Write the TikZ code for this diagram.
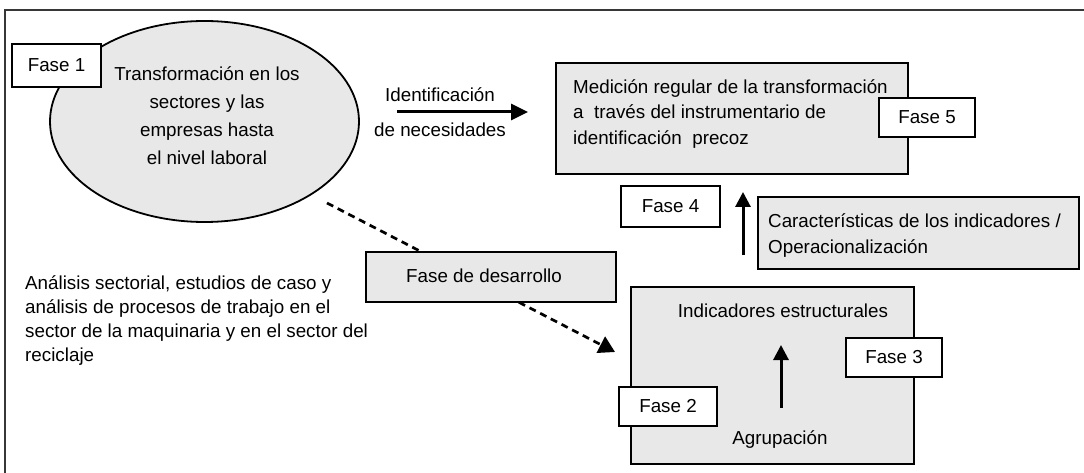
\documentclass[tikz,border=0pt]{standalone}
\usepackage{fontspec}
\setmainfont{Liberation Sans}
\usetikzlibrary{shapes.geometric,arrows.meta}
\definecolor{boxgray}{RGB}{232,232,232}
\definecolor{framegray}{RGB}{55,55,55}
\begin{document}
\begin{tikzpicture}[x=1pt,y=-1pt,
  every node/.style={font=\fontsize{18.8}{22}\selectfont},
  graybox/.style={draw=black,line width=2.1pt,fill=boxgray,rectangle,inner sep=0pt},
  phase/.style={draw=black,line width=2.1pt,fill=white,rectangle,inner sep=0pt},
  txt/.style={inner sep=0pt},
  arr/.style={line width=3pt,-{Triangle[length=17pt,width=16pt]}},
  uparr/.style={line width=3pt,-{Triangle[length=15pt,width=15pt]}},
  dasharr/.style={line width=2.7pt,dash pattern=on 7pt off 5pt,-{Triangle[length=16pt,width=18pt]}},
]
\useasboundingbox (0,0) rectangle (1084,473);
% frame (only top and left edges visible)
\draw[framegray,line width=1.8pt] (5,490) -- (5,10) -- (1100,10);

% Phase 1 ellipse
\node[ellipse,draw=black,line width=1.8pt,fill=boxgray,minimum width=309pt,minimum height=201pt,inner sep=0pt] (trans) at (204.5,121.5) {};
\node[txt,anchor=north,align=center,font=\fontsize{18.8}{28.3}\selectfont] (transtxt) at (207,66) {Transformación en los\\sectores y las\\empresas hasta\\el nivel laboral};
\node[phase,minimum width=89pt,minimum height=43pt] (f1) at (56.5,65.5) {Fase 1};

% identification arrow
\coordinate (idS) at (397,112);
\coordinate (idE) at (528,112);
\draw[arr] (idS) -- (idE);
\node[txt,anchor=north,align=center,font=\fontsize{18.8}{35}\selectfont] (idtxt) at (440,87) {Identificación\\de necesidades};

% measurement box
\node[graybox,minimum width=352pt,minimum height=111pt] (med) at (732,118.5) {};
\node[txt,anchor=north west,align=left,font=\fontsize{18.8}{25.5}\selectfont] (medtxt) at (573,79) {Medición regular de la transformación\\a\ \ través del instrumentario de\\identificación\ \ precoz};
\node[phase,minimum width=96pt,minimum height=39pt] (f5) at (927,117.5) {Fase 5};

% phase 4
\node[phase,minimum width=99pt,minimum height=41pt] (f4) at (670.5,206.5) {Fase 4};
\coordinate (f4S) at (743,255);
\coordinate (f4E) at (743,192);
\draw[uparr] (f4S) -- (f4E);
\node[graybox,minimum width=321pt,minimum height=72pt] (car) at (918.5,233) {};
\node[txt,anchor=north west,align=left,font=\fontsize{18.8}{26}\selectfont] (cartxt) at (768,213) {Características de los indicadores /\\Operacionalización};

% left text
\node[txt,anchor=north west,align=left,font=\fontsize{18.8}{24}\selectfont] (anal) at (25,275) {Análisis sectorial, estudios de caso y\\análisis de procesos de trabajo en el\\sector de la maquinaria y en el sector del\\reciclaje};

% dashed arrow and development phase
\coordinate (dS) at (327,203);
\coordinate (dE) at (615,352);
\draw[dasharr] (dS) -- (dE);
\node[graybox,minimum width=250pt,minimum height=50pt] (des) at (491,277) {};
\node[txt,anchor=base west] (destxt) at (406,282) {Fase de desarrollo};

% structural indicators
\node[graybox,minimum width=283pt,minimum height=177pt] (ind) at (772.5,375.5) {};
\node[txt,anchor=base] (indtxt) at (783,317) {Indicadores estructurales};
\node[txt,anchor=base] (agr) at (780,444) {Agrupación};
\coordinate (iS) at (781,408);
\coordinate (iE) at (781,345);
\draw[uparr] (iS) -- (iE);
\node[phase,minimum width=96pt,minimum height=39pt] (f3) at (894,357.5) {Fase 3};
\node[phase,minimum width=98pt,minimum height=39pt] (f2) at (668,406.5) {Fase 2};
\end{tikzpicture}
\end{document}
